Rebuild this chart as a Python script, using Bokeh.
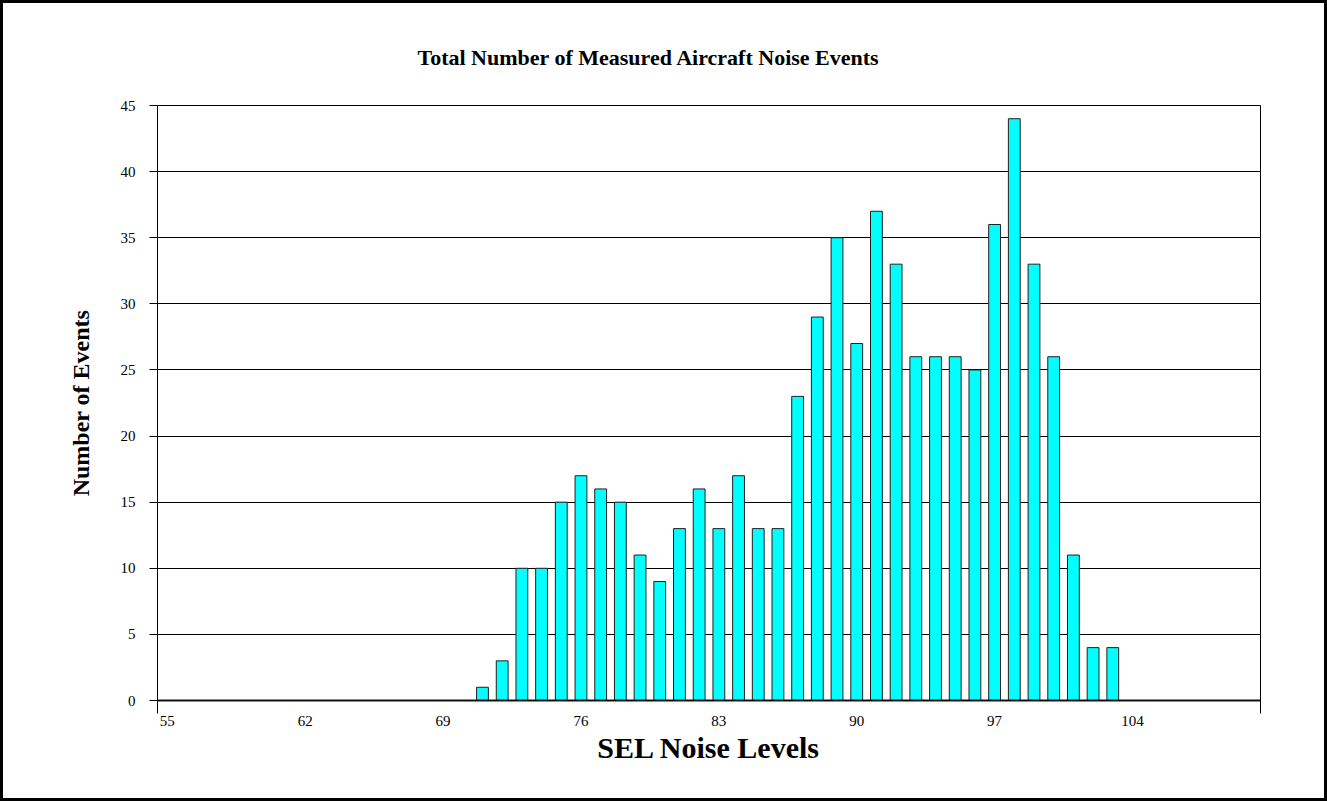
from bokeh.plotting import figure
from bokeh.models import Range1d, FixedTicker, Title
from bokeh.layouts import column
from bokeh.embed import file_html
from bokeh.resources import INLINE

# ---- data ----
sel_levels = list(range(71, 104))
event_counts = [1, 3, 10, 10, 15, 17, 16, 15, 11, 9, 13, 16, 13, 17, 13, 13,
                23, 29, 35, 27, 37, 33, 26, 26, 26, 25, 36, 44, 33, 26, 11, 4, 4]
x_tick_values = [55, 62, 69, 76, 83, 90, 97, 104]
y_tick_values = [0, 5, 10, 15, 20, 25, 30, 35, 40, 45]
category_first = 55
category_last = 110

SERIF = "Liberation Serif"

p = figure(width=1321, height=795, output_backend="svg", toolbar_location=None,
           x_range=Range1d(category_first - 0.5, category_last + 0.5),
           y_range=Range1d(0, 45),
           min_border_left=154, min_border_right=64,
           min_border_top=102, min_border_bottom=98,
           background_fill_color="white", border_fill_color="white")

p.vbar(x=sel_levels, top=event_counts, width=0.6, bottom=0,
       fill_color="#00FFFF", line_color="#202020", line_width=1)

# frame
p.outline_line_color = "black"
p.outline_line_width = 1
p.outline_line_alpha = 1

# grids
p.xgrid.visible = False
p.ygrid.grid_line_color = "black"
p.ygrid.grid_line_width = 1
p.ygrid.grid_line_alpha = 1

# x axis
xa = p.xaxis[0]
xa.ticker = FixedTicker(ticks=x_tick_values,
                        minor_ticks=[category_first - 0.5, category_last + 0.5])
xa.major_tick_out = 0
xa.major_tick_in = 0
xa.minor_tick_out = 13
xa.minor_tick_in = 0
xa.minor_tick_line_color = "black"
xa.axis_line_color = "#111111"
xa.axis_line_width = 2
xa.major_label_text_font = SERIF
xa.major_label_text_font_size = "15px"
xa.major_label_text_color = "black"
xa.major_label_standoff = 2
xa.axis_label = "SEL Noise Levels"
xa.axis_label_text_font = SERIF
xa.axis_label_text_font_style = "bold"
xa.axis_label_text_font_size = "30px"
xa.axis_label_text_color = "black"
xa.axis_label_standoff = 2

# y axis
ya = p.yaxis[0]
ya.ticker = FixedTicker(ticks=y_tick_values, minor_ticks=[])
ya.major_tick_out = 8
ya.major_tick_in = 0
ya.major_tick_line_color = "black"
ya.minor_tick_line_color = None
ya.axis_line_color = "black"
ya.major_label_text_font = SERIF
ya.major_label_text_font_size = "15px"
ya.major_label_text_color = "black"
ya.major_label_standoff = 14
ya.axis_label = "Number of Events"
ya.axis_label_text_font = SERIF
ya.axis_label_text_font_style = "bold"
ya.axis_label_text_font_size = "24px"
ya.axis_label_text_color = "black"
ya.axis_label_standoff = 24

p.add_layout(Title(text="Total Number of Measured Aircraft Noise Events",
                   text_font=SERIF, text_font_style="bold", text_font_size="22px",
                   text_color="black", align="left", offset=260, standoff=72), "above")

layout = column(p, styles={"border": "3px solid black"})

open("out.html", "w").write(file_html(layout, INLINE))
